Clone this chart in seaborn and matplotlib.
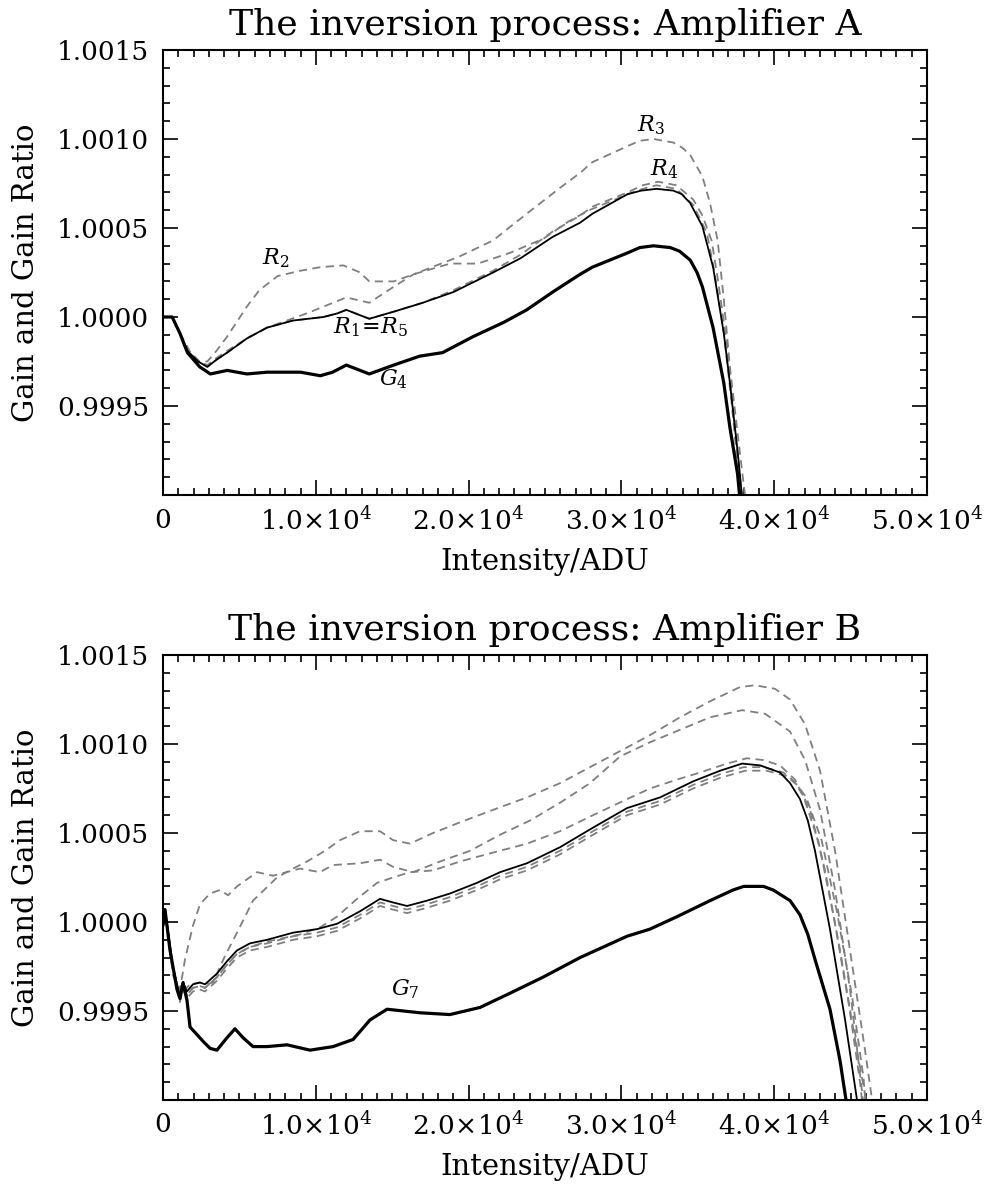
import numpy as np
import pandas as pd
import matplotlib
matplotlib.use("Agg")
import matplotlib.pyplot as plt
from matplotlib.ticker import MultipleLocator, FixedLocator, FixedFormatter
import seaborn as sns

# ---------------- data: Amplifier A ----------------
A_G_x = [0, 600, 1100, 1600, 2400, 3100, 4200, 5500, 6800, 8100,
         9000, 10300, 11100, 12000, 13500, 15100, 16800, 18300, 20300, 22300,
         23800, 25500, 27300, 28100, 30400, 31200, 32100, 33200, 33800, 34500,
         34950, 35300, 36000, 36700, 37100, 37600, 37900]
A_G_y = [1.00000, 1.00000, 0.99991, 0.99980, 0.99972, 0.99968, 0.99970, 0.99968, 0.99969, 0.99969,
         0.99969, 0.99967, 0.99969, 0.99973, 0.99968, 0.99973, 0.99978, 0.99980, 0.99989, 0.99997,
         1.00004, 1.00014, 1.00024, 1.00028, 1.00036, 1.00039, 1.00040, 1.00039, 1.00037, 1.00032,
         1.00025, 1.00017, 0.99994, 0.99963, 0.99938, 0.99912, 0.99885]

A_R1_x = [0, 600, 1100, 1600, 2300, 2900, 3500, 4200, 5500, 6800,
          8500, 10500, 11400, 12000, 13500, 15100, 17000, 19000, 21600, 23400,
          25500, 27300, 28100, 30400, 31300, 32300, 33400, 33950, 34500, 35300,
          36000, 36700, 37100, 37600, 38000]
A_R1_y = [1.00000, 1.00000, 0.99991, 0.99981, 0.99975, 0.99972, 0.99976, 0.99980, 0.99988, 0.99994,
          0.99998, 1.00000, 1.00002, 1.00004, 0.99999, 1.00003, 1.00008, 1.00014, 1.00025, 1.00033,
          1.00045, 1.00053, 1.00058, 1.00069, 1.00071, 1.00072, 1.00071, 1.00069, 1.00064, 1.00051,
          1.00028, 0.99991, 0.99963, 0.99925, 0.99890]

A_R2_x = [0, 600, 1100, 1800, 2400, 2900, 3500, 4200, 5500, 6300,
          7500, 9000, 10300, 11800, 12900, 13500, 15100, 16400, 18800, 20600,
          22700, 24900, 26600, 27900, 29300, 30400, 31400, 32300, 33600, 34700,
          35600, 36100, 36700, 37200, 37800, 38100]
A_R2_y = [1.00000, 1.00000, 0.99991, 0.99980, 0.99975, 0.99975, 0.99981, 0.99989, 1.00006, 1.00015,
          1.00023, 1.00026, 1.00028, 1.00029, 1.00025, 1.00020, 1.00020, 1.00024, 1.00030, 1.00030,
          1.00036, 1.00044, 1.00054, 1.00060, 1.00065, 1.00069, 1.00072, 1.00074, 1.00072, 1.00063,
          1.00047, 1.00025, 0.99991, 0.99953, 0.99899, 0.99880]

A_R3_x = [0, 600, 1100, 1600, 2300, 2900, 3500, 4200, 5500, 6800,
          9400, 12000, 13500, 15100, 16400, 17900, 19400, 21600, 23800, 25900,
          27300, 28100, 30400, 31200, 32100, 33400, 34000, 34500, 35300, 35800,
          36300, 36700, 37100, 37600, 38100, 38300]
A_R3_y = [1.00000, 1.00000, 0.99991, 0.99981, 0.99975, 0.99973, 0.99977, 0.99981, 0.99988, 0.99994,
          1.00002, 1.00011, 1.00008, 1.00017, 1.00024, 1.00029, 1.00034, 1.00043, 1.00058, 1.00072,
          1.00081, 1.00087, 1.00096, 1.00099, 1.00100, 1.00098, 1.00095, 1.00091, 1.00079, 1.00064,
          1.00043, 1.00010, 0.99972, 0.99935, 0.99899, 0.99885]

A_R4_x = [0, 600, 1100, 1600, 2300, 2900, 3500, 4200, 5500, 6800,
          8500, 10500, 11400, 12000, 13500, 15100, 17000, 19000, 21600, 23400,
          25500, 27300, 28100, 30400, 31400, 32400, 33600, 34700, 35300, 35900,
          36300, 36900, 37300, 37900, 38200]
A_R4_y = [1.00000, 1.00000, 0.99991, 0.99981, 0.99975, 0.99972, 0.99976, 0.99980, 0.99988, 0.99994,
          0.99998, 1.00000, 1.00002, 1.00004, 0.99999, 1.00003, 1.00008, 1.00015, 1.00026, 1.00035,
          1.00048, 1.00057, 1.00062, 1.00070, 1.00074, 1.00076, 1.00074, 1.00066, 1.00057, 1.00043,
          1.00022, 0.99985, 0.99950, 0.99898, 0.99880]

# ---------------- data: Amplifier B ----------------
B_G_x = [0, 130, 460, 920, 1110, 1310, 1570, 1770, 2090, 2620,
         3080, 3530, 4190, 4710, 5240, 5890, 6810, 8120, 9620, 11130,
         12440, 13550, 14660, 16820, 18780, 20750, 22710, 24870, 27290, 30370,
         31870, 33640, 35800, 37310, 38000, 38620, 39300, 39930, 41040, 41690,
         42200, 42670, 43650, 44310, 44700, 44900]
B_G_y = [0.99998, 1.00007, 0.99984, 0.99962, 0.99957, 0.99966, 0.99956, 0.99941, 0.99938, 0.99933,
         0.99929, 0.99928, 0.99935, 0.99940, 0.99935, 0.99930, 0.99930, 0.99931, 0.99928, 0.99930,
         0.99934, 0.99945, 0.99951, 0.99949, 0.99948, 0.99952, 0.99960, 0.99969, 0.99980, 0.99992,
         0.99996, 1.00003, 1.00012, 1.00018, 1.00020, 1.00020, 1.00020, 1.00018, 1.00012, 1.00004,
         0.99993, 0.99979, 0.99951, 0.99922, 0.99900, 0.99888]

B_R_x = [0, 130, 650, 1110, 1310, 1570, 1960, 2420, 2750, 3530,
         4190, 4840, 5690, 6810, 8510, 10080, 11390, 12890, 14200, 15050,
         15970, 17280, 18780, 20550, 22060, 23820, 25980, 28140, 30370, 32530,
         34690, 36460, 37900, 39070, 40380, 41040, 41690, 42200, 42670, 43650,
         44640, 45420, 45600]
B_R_y = [0.99998, 1.00007, 0.99975, 0.99958, 0.99966, 0.99961, 0.99965, 0.99966, 0.99965, 0.99971,
         0.99978, 0.99984, 0.99988, 0.99990, 0.99994, 0.99996, 0.99999, 1.00006, 1.00013, 1.00011,
         1.00009, 1.00012, 1.00016, 1.00022, 1.00028, 1.00033, 1.00042, 1.00053, 1.00064, 1.00070,
         1.00079, 1.00085, 1.00089, 1.00088, 1.00084, 1.00078, 1.00069, 1.00057, 1.00040, 0.99996,
         0.99945, 0.99900, 0.99890]

B_C1_x = [0, 130, 650, 1110, 1310, 1570, 1960, 2420, 2750, 3530,
          4190, 4840, 5690, 6810, 8510, 10080, 11390, 12890, 14200, 15050,
          15970, 17280, 18780, 20550, 22060, 23820, 25980, 28140, 30370, 32530,
          34690, 36460, 38000, 39300, 40600, 41300, 41900, 42900, 43900, 44900,
          45650, 45850]
B_C1_y = [0.99998, 1.00007, 0.99974, 0.99956, 0.99964, 0.99959, 0.99963, 0.99964, 0.99963, 0.99969,
          0.99976, 0.99982, 0.99986, 0.99988, 0.99992, 0.99994, 0.99997, 1.00004, 1.00011, 1.00009,
          1.00007, 1.00010, 1.00014, 1.00020, 1.00026, 1.00031, 1.00040, 1.00051, 1.00062, 1.00068,
          1.00077, 1.00083, 1.00087, 1.00087, 1.00084, 1.00079, 1.00071, 1.00045, 1.00003, 0.99953,
          0.99908, 0.99890]

B_C2_x = [0, 130, 650, 1110, 1310, 1570, 1960, 2420, 2750, 3530,
          4190, 4840, 5690, 6810, 8510, 10080, 11390, 12890, 14200, 15050,
          15970, 17280, 18780, 20550, 22060, 23820, 25980, 28140, 30370, 32530,
          34690, 36460, 38100, 39500, 40800, 41500, 42100, 43100, 44100, 45100,
          45850, 46050]
B_C2_y = [0.99998, 1.00007, 0.99973, 0.99955, 0.99962, 0.99957, 0.99961, 0.99962, 0.99961, 0.99967,
          0.99974, 0.99980, 0.99984, 0.99986, 0.99990, 0.99992, 0.99995, 1.00002, 1.00009, 1.00007,
          1.00005, 1.00008, 1.00012, 1.00018, 1.00024, 1.00029, 1.00038, 1.00049, 1.00060, 1.00066,
          1.00075, 1.00081, 1.00085, 1.00085, 1.00082, 1.00077, 1.00070, 1.00046, 1.00006, 0.99958,
          0.99912, 0.99890]

B_D3_x = [0, 130, 650, 1110, 1310, 1570, 1960, 2420, 2750, 3530,
          4190, 4840, 5690, 6810, 8970, 10280, 11390, 12700, 14010, 15050,
          16170, 17670, 19440, 21600, 23820, 25980, 28140, 30370, 31870, 33640,
          35150, 36910, 38220, 39270, 40380, 41360, 42350, 43330, 44310, 45290,
          46010, 46200]
B_D3_y = [0.99998, 1.00007, 0.99974, 0.99957, 0.99964, 0.99959, 0.99963, 0.99964, 0.99963, 0.99969,
          0.99976, 0.99982, 0.99986, 0.99989, 0.99993, 0.99997, 1.00003, 1.00013, 1.00022, 1.00025,
          1.00028, 1.00029, 1.00034, 1.00039, 1.00044, 1.00051, 1.00060, 1.00069, 1.00075, 1.00080,
          1.00084, 1.00089, 1.00092, 1.00091, 1.00088, 1.00080, 1.00063, 1.00029, 0.99984, 0.99934,
          0.99900, 0.99890]

B_DA_x = [0, 131, 654, 1113, 1767, 2422, 2749, 3273, 4058, 4843,
          5891, 7461, 8509, 9425, 10603, 11585, 12894, 14203, 15054, 16166,
          17672, 19439, 21599, 23824, 25984, 27947, 29911, 31874, 33837, 35801,
          37765, 38746, 40056, 41037, 42019, 43000, 43982, 44963, 45945, 46404,
          46535]
B_DA_y = [0.99998, 1.00007, 0.99973, 0.99959, 0.99965, 0.99966, 0.99965, 0.99966, 0.99981, 0.99994,
          1.00012, 1.00025, 1.00030, 1.00034, 1.00040, 1.00046, 1.00051, 1.00051, 1.00046, 1.00044,
          1.00050, 1.00056, 1.00063, 1.00070, 1.00078, 1.00087, 1.00096, 1.00105, 1.00115, 1.00124,
          1.00132, 1.00133, 1.00131, 1.00125, 1.00111, 1.00085, 1.00040, 0.99984, 0.99928, 0.99900,
          0.99894]

B_DB_x = [0, 131, 654, 1113, 1440, 1963, 2422, 3076, 3731, 4254,
          4843, 6152, 7200, 8967, 10276, 11127, 12894, 14203, 15054, 16363,
          18130, 20093, 22056, 24020, 25984, 27947, 29911, 31874, 33837, 35801,
          37896, 39401, 41037, 42019, 43000, 43982, 44963, 45814, 46000]
B_DB_y = [0.99998, 1.00007, 0.99970, 0.99962, 0.99979, 0.99998, 1.00010, 1.00016, 1.00018, 1.00015,
          1.00020, 1.00028, 1.00026, 1.00030, 1.00028, 1.00032, 1.00033, 1.00035, 1.00031, 1.00028,
          1.00034, 1.00040, 1.00049, 1.00057, 1.00067, 1.00078, 1.00093, 1.00101, 1.00108, 1.00115,
          1.00119, 1.00117, 1.00107, 1.00091, 1.00063, 1.00018, 0.99962, 0.99900, 0.99890]

# labels (text, x, y)
A_labels = [(r"$R_2$", 7400, 1.00033), (r"$R_1\!=\!R_5$", 13600, 0.99994),
            (r"$G_4$", 15050, 0.99965), (r"$R_3$", 31900, 1.00108),
            (r"$R_4$", 32800, 1.00083)]
B_labels = [(r"$G_7$", 15840, 0.99962)]

x_ticks = [0, 10000, 20000, 30000, 40000, 50000]
x_ticklabels = ["0", r"$1.0\!\times\!10^{4}$", r"$2.0\!\times\!10^{4}$",
                r"$3.0\!\times\!10^{4}$", r"$4.0\!\times\!10^{4}$", r"$5.0\!\times\!10^{4}$"]
y_ticks = [0.9995, 1.0000, 1.0005, 1.0010, 1.0015]
y_ticklabels = ["0.9995", "1.0000", "1.0005", "1.0010", "1.0015"]

# ---------------- styling ----------------
sns.set_theme(style="white")
plt.rcParams["font.family"] = ["DejaVu Serif"]
plt.rcParams["mathtext.fontset"] = "dejavuserif"
plt.rcParams["axes.linewidth"] = 1.5
plt.rcParams["axes.edgecolor"] = "black"
plt.rcParams["text.color"] = "black"
plt.rcParams["axes.labelcolor"] = "black"
plt.rcParams["xtick.color"] = "black"
plt.rcParams["ytick.color"] = "black"
plt.rcParams["axes.titlecolor"] = "black"

GRAY = "#7f7f7f"
DASH = (0, (4.5, 3.0))

fig = plt.figure(figsize=(9.88, 11.84), dpi=100)
axA = fig.add_axes([163 / 988, 1 - 495 / 1184, 764 / 988, 445 / 1184])
axB = fig.add_axes([163 / 988, 1 - 1100 / 1184, 764 / 988, 445 / 1184])


def draw(ax, x, y, kind):
    if kind == "G":
        sns.lineplot(x=x, y=y, ax=ax, color="black", lw=2.3, sort=False,
                     estimator=None, errorbar=None)
    elif kind == "R":
        sns.lineplot(x=x, y=y, ax=ax, color="black", lw=1.3, sort=False,
                     estimator=None, errorbar=None)
    else:
        sns.lineplot(x=x, y=y, ax=ax, color=GRAY, lw=1.3, linestyle=DASH,
                     sort=False, estimator=None, errorbar=None)


for xs, ys in [(A_R2_x, A_R2_y), (A_R3_x, A_R3_y), (A_R4_x, A_R4_y)]:
    draw(axA, xs, ys, "D")
draw(axA, A_R1_x, A_R1_y, "R")
draw(axA, A_G_x, A_G_y, "G")

for xs, ys in [(B_DA_x, B_DA_y), (B_DB_x, B_DB_y), (B_D3_x, B_D3_y),
               (B_C1_x, B_C1_y), (B_C2_x, B_C2_y)]:
    draw(axB, xs, ys, "D")
draw(axB, B_R_x, B_R_y, "R")
draw(axB, B_G_x, B_G_y, "G")

for ax, title, labels in [(axA, "The inversion process: Amplifier A", A_labels),
                          (axB, "The inversion process: Amplifier B", B_labels)]:
    ax.set_xlim(0, 50000)
    ax.set_ylim(0.9990, 1.0015)
    ax.xaxis.set_major_locator(FixedLocator(x_ticks))
    ax.xaxis.set_major_formatter(FixedFormatter(x_ticklabels))
    ax.xaxis.set_minor_locator(MultipleLocator(1000))
    ax.yaxis.set_major_locator(FixedLocator(y_ticks))
    ax.yaxis.set_major_formatter(FixedFormatter(y_ticklabels))
    ax.yaxis.set_minor_locator(MultipleLocator(0.0001))
    ax.tick_params(which="both", direction="in", top=True, right=True,
                   bottom=True, left=True, color="black")
    ax.tick_params(which="major", length=11, width=1.2, labelsize=19)
    ax.tick_params(which="minor", length=5, width=1.2)
    ax.tick_params(axis="x", which="major", pad=9)
    ax.tick_params(axis="y", which="major", pad=10)
    ax.set_xlabel("Intensity/ADU", fontsize=21, labelpad=9)
    ax.set_ylabel("Gain and Gain Ratio", fontsize=21, labelpad=12)
    ax.set_title(title, fontsize=26, pad=11)
    for s in ax.spines.values():
        s.set_visible(True)
        s.set_linewidth(1.5)
    for txt, tx, ty in labels:
        ax.text(tx, ty, txt, fontsize=16, ha="center", va="center", color="black")

fig.savefig("out.png", dpi=100)
